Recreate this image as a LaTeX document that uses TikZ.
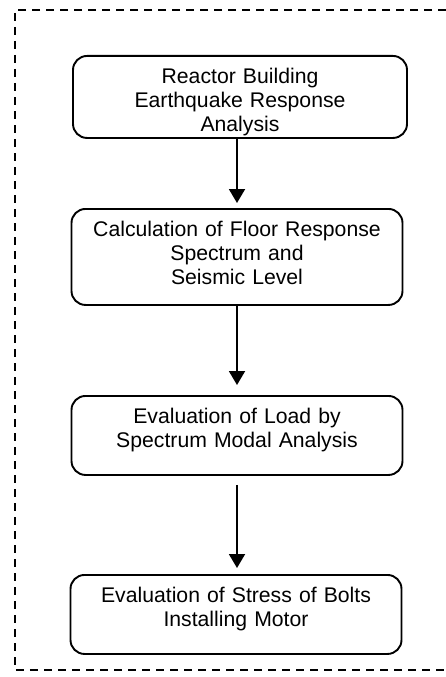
\documentclass[tikz,border=0pt]{standalone}
\usepackage{fontspec}
\setmainfont{Liberation Sans}
\usetikzlibrary{arrows.meta}

\begin{document}
\begin{tikzpicture}[x=1pt,y=-1pt,font=\fontsize{21.2}{23.8}\selectfont,>={Triangle[width=16pt,length=14pt]}]
\tikzset{stagebox/.style={draw,line width=1.9pt,rounded corners=14pt,inner sep=0pt,align=center,anchor=north,text width=331pt,text height=27.5pt},
  flow/.style={->,line width=1.9pt}}
\useasboundingbox (0,0) rectangle (446,677);
\clip (0,0) rectangle (446,677);
% frame, open to the right
\draw[line width=1.7pt,dash pattern=on 8pt off 6pt] (460,10) -- (15,10) -- (15,670) -- (460,670);
\node[stagebox,text width=334pt,text depth=54.5pt] (react) at (240,55) {Reactor Building\\Earthquake Response\\Analysis};
\node[stagebox,text depth=68.5pt] (floor) at (237,208) {Calculation of Floor Response\\Spectrum and\\Seismic Level};
\node[stagebox,text depth=51.5pt] (modal) at (237,395) {Evaluation of Load by\\Spectrum Modal Analysis};
\node[stagebox,text depth=51.5pt] (bolts) at (236,574) {Evaluation of Stress of Bolts\\Installing Motor};
\draw[flow,shorten >=5pt] (react.south -| floor.north) -- (floor.north);
\draw[flow,shorten >=10pt] (floor.south) -- (modal.north);
\draw[flow,shorten <=9pt,shorten >=6pt] (modal.south) -- (modal.south |- bolts.north);
\end{tikzpicture}
\end{document}
